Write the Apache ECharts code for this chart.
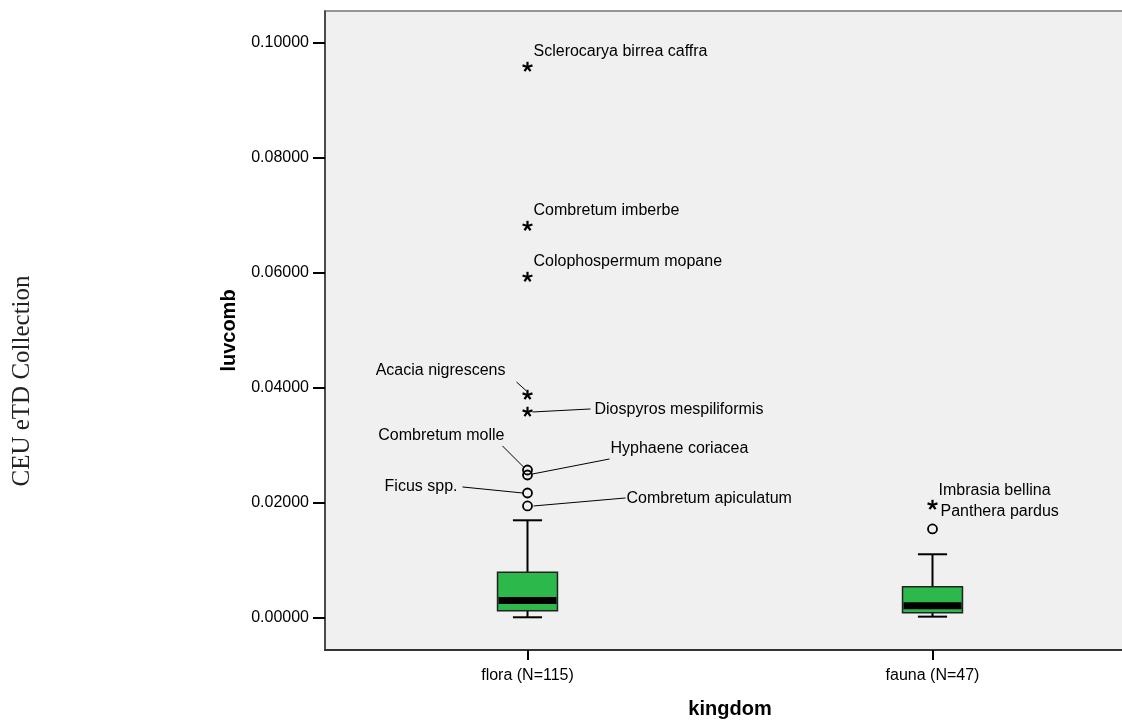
<!DOCTYPE html>
<html>
<head>
<meta charset="utf-8">
<script src="https://cdn.jsdelivr.net/npm/echarts@6/dist/echarts.min.js"></script>
<style>
html,body{margin:0;padding:0;background:#fff;}
#chart{width:1122px;height:720px;}
</style>
</head>
<body>
<div id="chart"></div>
<script>
// ---------- data ----------
const categories = ['flora (N=115)', 'fauna (N=47)'];
const whiskerLow = [0.00012, 0.00023];
const quartile1 = [0.00127, 0.00092];
const medians = [0.00304, 0.00212];
const quartile3 = [0.00795, 0.00544];
const whiskerHigh = [0.01699, 0.01108];

const outlierNames = ['Sclerocarya birrea caffra', 'Combretum imberbe', 'Colophospermum mopane',
  'Acacia nigrescens', 'Diospyros mespiliformis', 'Combretum molle', 'Hyphaene coriacea',
  'Ficus spp.', 'Combretum apiculatum', 'Imbrasia bellina', 'Panthera pardus'];
const outlierGroup = [0, 0, 0, 0, 0, 0, 0, 0, 0, 1, 1];
const outlierValues = [0.09583, 0.06817, 0.05930, 0.03878, 0.03583, 0.02574, 0.02487,
  0.02174, 0.01948, 0.01965, 0.01548];
const outlierKind = ['extreme', 'extreme', 'extreme', 'extreme', 'extreme', 'outlier', 'outlier',
  'outlier', 'outlier', 'extreme', 'outlier'];

const yTicks = [0, 0.02, 0.04, 0.06, 0.08, 0.10];

// ---------- label placement (pixel offsets from marker) ----------
const labelPlace = {
  'Sclerocarya birrea caffra': {dx: 6, dy: -15, align: 'left'},
  'Combretum imberbe': {dx: 6, dy: -15, align: 'left'},
  'Colophospermum mopane': {dx: 6, dy: -15, align: 'left'},
  'Acacia nigrescens': {dx: -22, dy: -24, align: 'right', line: [-11, -13, -1, -4]},
  'Diospyros mespiliformis': {dx: 67, dy: -2, align: 'left', line: [5, 0, 63, -3]},
  'Combretum molle': {dx: -23, dy: -34, align: 'right', line: [-25, -24, -4, -3]},
  'Hyphaene coriacea': {dx: 83, dy: -26, align: 'left', line: [5, -1, 82, -16]},
  'Ficus spp.': {dx: -70, dy: -6, align: 'right', line: [-65, -6, -5, 0]},
  'Combretum apiculatum': {dx: 99, dy: -7, align: 'left', line: [6, 0, 98, -8]},
  'Imbrasia bellina': {dx: 6, dy: -14, align: 'left'},
  'Panthera pardus': {dx: 8, dy: -17, align: 'left'}
};

const FONT = '"Liberation Sans", Arial, sans-serif';

const boxData = categories.map((c, i) => [i, whiskerLow[i], quartile1[i], medians[i], quartile3[i], whiskerHigh[i]]);
const outlierData = outlierNames.map((n, i) => [outlierGroup[i], outlierValues[i], i]);

function renderBox(params, api) {
  const idx = api.value(0);
  const band = api.size([1, 0])[0];
  const boxW = band * 0.148;
  const capW = band * 0.072;
  const x = api.coord([idx, 0])[0];
  const yLow = api.coord([idx, api.value(1)])[1];
  const yQ1 = api.coord([idx, api.value(2)])[1];
  const yMed = api.coord([idx, api.value(3)])[1];
  const yQ3 = api.coord([idx, api.value(4)])[1];
  const yHigh = api.coord([idx, api.value(5)])[1];
  const ls = {stroke: '#000', lineWidth: 2};
  return {
    type: 'group',
    children: [
      {type: 'line', shape: {x1: x, y1: yHigh, x2: x, y2: yQ3}, style: ls},
      {type: 'line', shape: {x1: x, y1: yQ1, x2: x, y2: yLow}, style: ls},
      {type: 'line', shape: {x1: x - capW / 2, y1: yHigh, x2: x + capW / 2, y2: yHigh}, style: ls},
      {type: 'line', shape: {x1: x - capW / 2, y1: yLow, x2: x + capW / 2, y2: yLow}, style: ls},
      {type: 'rect', shape: {x: x - boxW / 2, y: yQ3, width: boxW, height: yQ1 - yQ3},
        style: {fill: '#2db84b', stroke: '#222', lineWidth: 1.5}},
      {type: 'rect', shape: {x: x - boxW / 2 + 1, y: yMed - 3.5, width: boxW - 2, height: 7},
        style: {fill: '#000'}}
    ]
  };
}

function renderOutlier(params, api) {
  const idx = api.value(0);
  const p = api.coord([idx, api.value(1)]);
  const k = api.value(2);
  const name = outlierNames[k];
  const pl = labelPlace[name];
  const cx = p[0], cy = p[1];
  const children = [];
  if (outlierKind[k] === 'extreme') {
    const r = 5.2;
    for (let a = 0; a < 5; a++) {
      const ang = -Math.PI / 2 + a * 2 * Math.PI / 5;
      children.push({type: 'line', shape: {x1: cx, y1: cy, x2: cx + r * Math.cos(ang), y2: cy + r * Math.sin(ang)},
        style: {stroke: '#000', lineWidth: 2.2}});
    }
  } else {
    children.push({type: 'circle', shape: {cx: cx, cy: cy, r: 4.5},
      style: {fill: 'none', stroke: '#000', lineWidth: 1.8}});
  }
  if (pl.line) {
    children.push({type: 'line', shape: {x1: cx + pl.line[0], y1: cy + pl.line[1], x2: cx + pl.line[2], y2: cy + pl.line[3]},
      style: {stroke: '#000', lineWidth: 1}});
  }
  children.push({type: 'text', x: cx + pl.dx, y: cy + pl.dy,
    style: {text: name, fill: '#000', font: '16px ' + FONT, align: pl.align, verticalAlign: 'middle'}});
  return {type: 'group', children: children};
}

const chart = echarts.init(document.getElementById('chart'), null, {renderer: 'canvas'});
chart.setOption({
  animation: false,
  backgroundColor: '#fff',
  grid: {left: 325, top: 11, width: 810, height: 639, show: true, backgroundColor: '#f0f0f0',
    borderColor: '#777', borderWidth: 1.5, containLabel: false, outerBoundsMode: 'none'},
  xAxis: {
    type: 'category', data: categories, boundaryGap: true,
    name: 'kingdom', nameLocation: 'middle', nameGap: 49,
    nameTextStyle: {fontFamily: FONT, fontSize: 20, fontWeight: 'bold', color: '#000'},
    axisLine: {onZero: false, lineStyle: {color: '#333', width: 2}},
    axisTick: {show: true, interval: 0, alignWithLabel: true, inside: false, length: 10, lineStyle: {color: '#000', width: 2}},
    axisLabel: {fontFamily: FONT, fontSize: 16, color: '#000', margin: 18},
    splitLine: {show: false}
  },
  yAxis: {
    type: 'value', min: -0.00557, max: 0.10557,
    name: 'luvcomb', nameLocation: 'middle', nameGap: 86, nameRotate: 90,
    nameTextStyle: {fontFamily: FONT, fontSize: 20, fontWeight: 'bold', color: '#000'},
    axisLine: {show: true, onZero: false, lineStyle: {color: '#333', width: 1.5}},
    axisTick: {show: true, length: 12, customValues: yTicks, lineStyle: {color: '#000', width: 2}},
    axisLabel: {fontFamily: FONT, fontSize: 16, color: '#000', margin: 16, customValues: yTicks,
      formatter: v => v.toFixed(5)},
    splitLine: {show: false}
  },
  series: [
    {type: 'custom', renderItem: renderBox, data: boxData, clip: false, z: 3},
    {type: 'custom', renderItem: renderOutlier, data: outlierData, clip: false, z: 4}
  ],
  graphic: [
    {type: 'text', x: 22, y: 381, rotation: Math.PI / 2,
      style: {text: 'CEU eTD Collection', fill: '#222', font: '25px "Liberation Serif", "Times New Roman", serif',
        align: 'center', verticalAlign: 'middle'}}
  ]
});
</script>
</body>
</html>
